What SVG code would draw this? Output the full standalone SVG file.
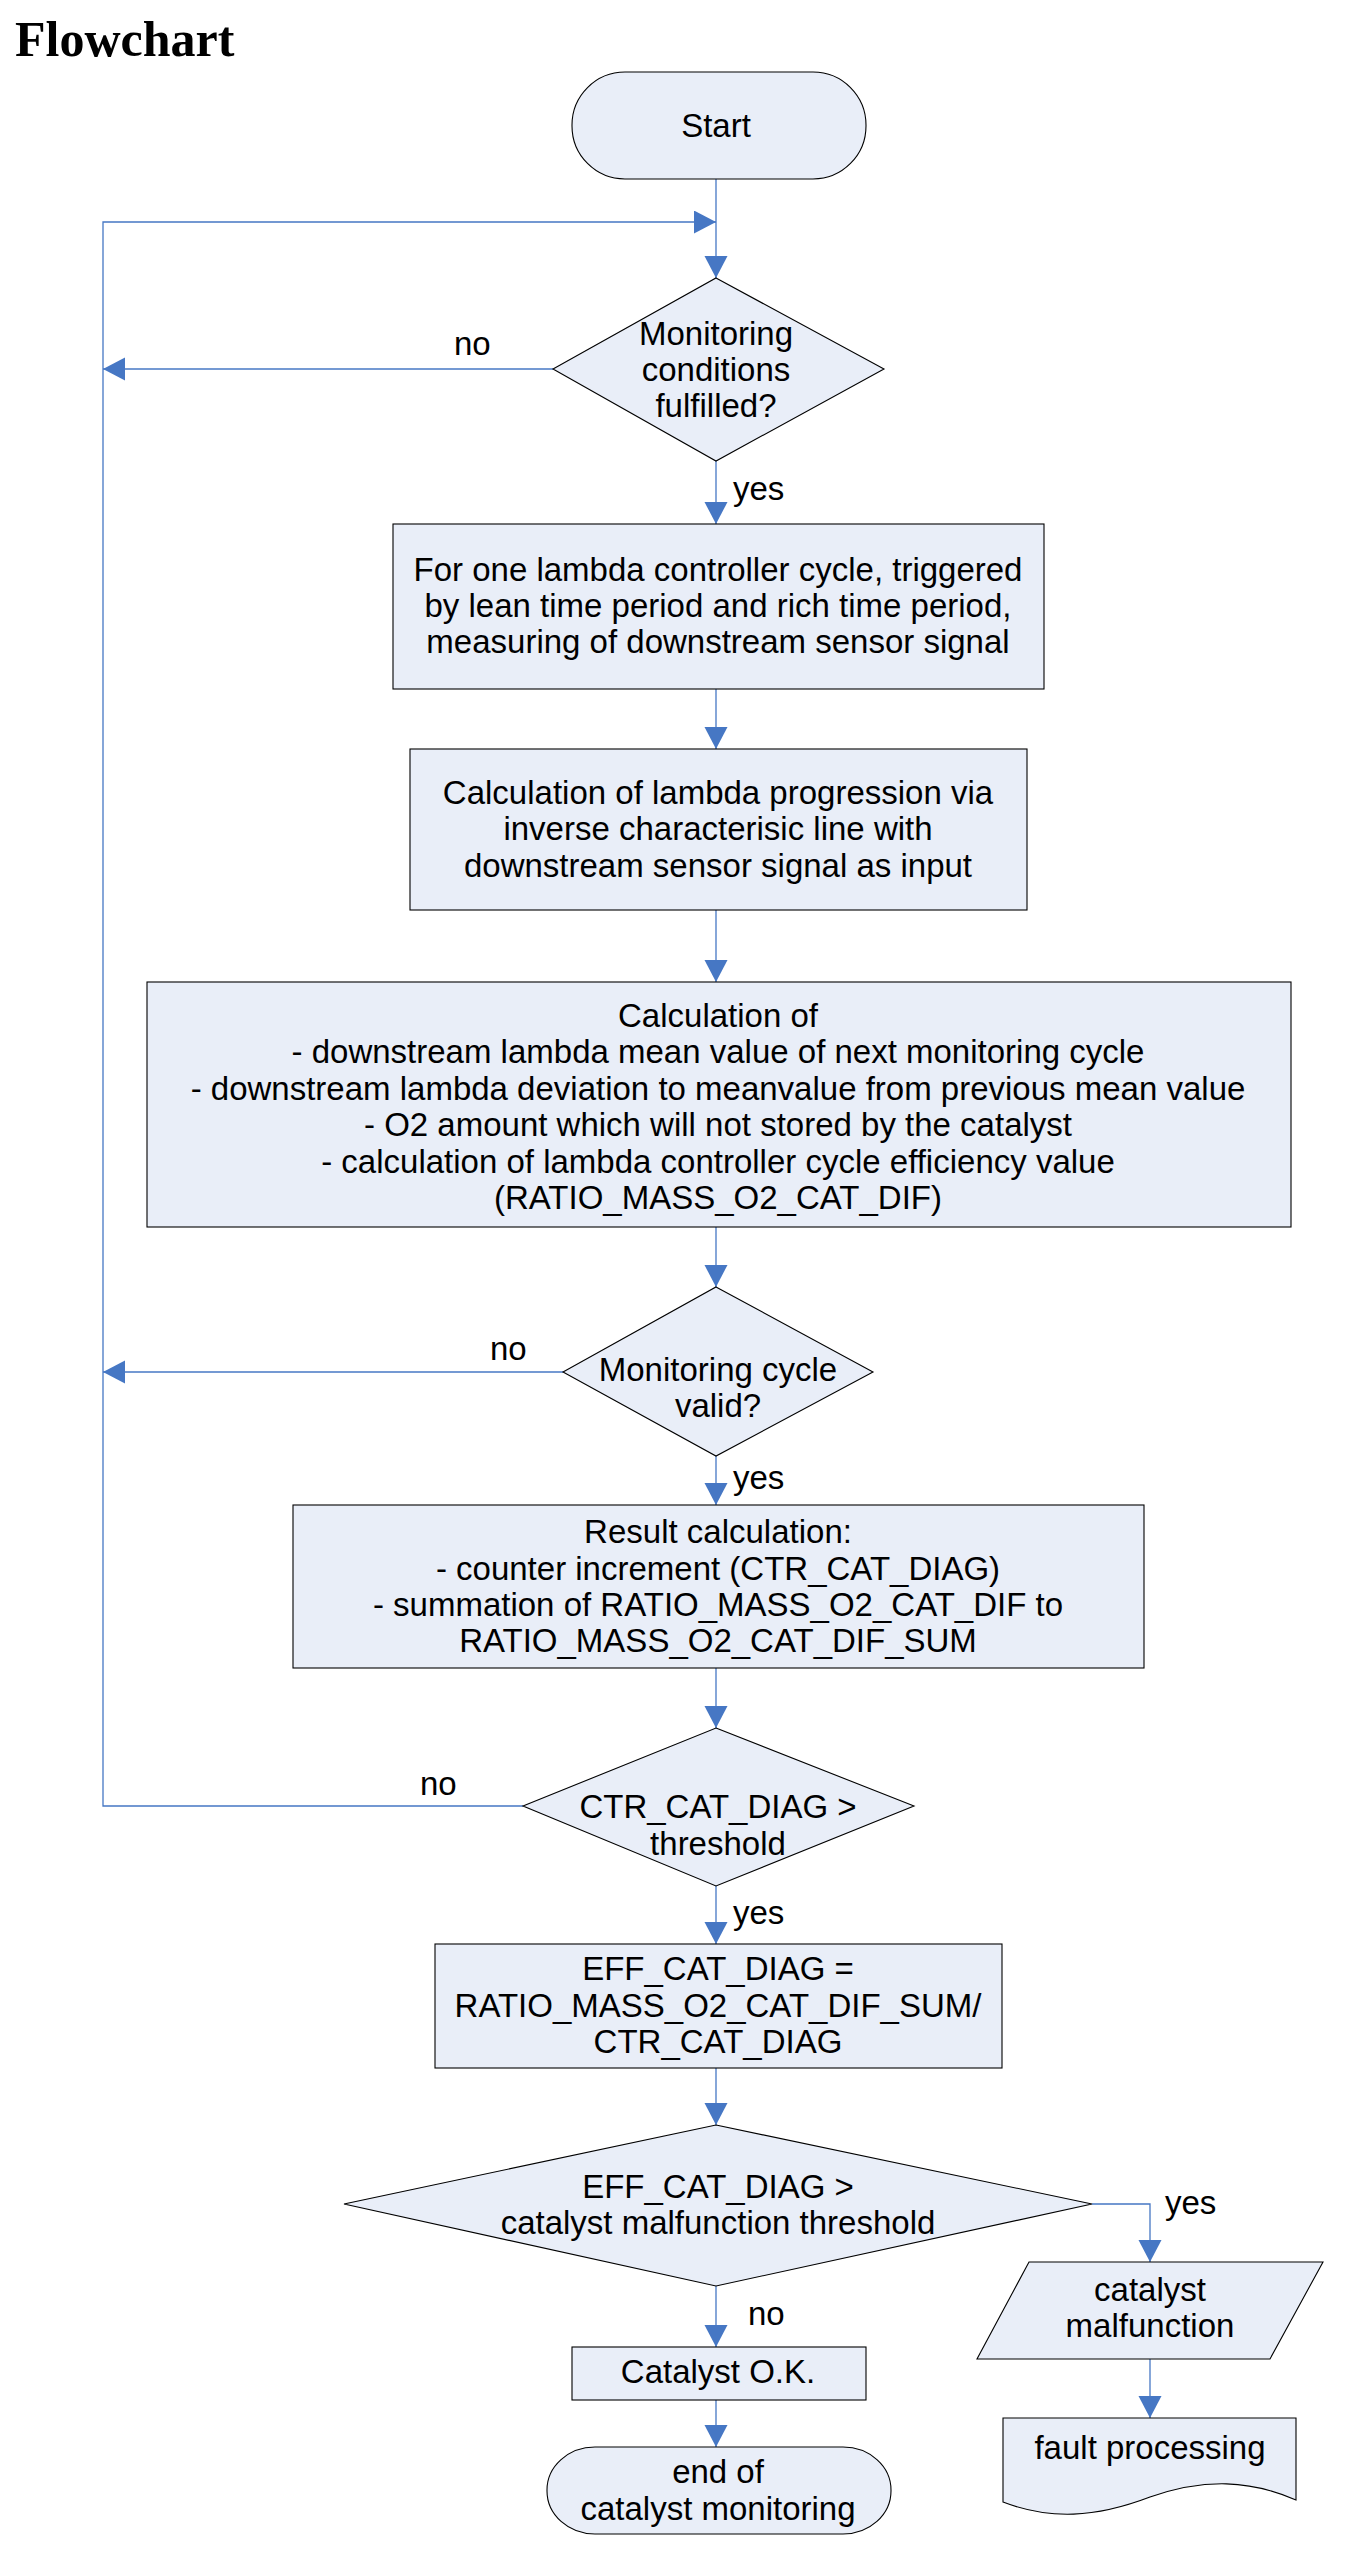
<svg xmlns="http://www.w3.org/2000/svg" width="1348" height="2563" viewBox="0 0 1348 2563">
<style>
.s{fill:#e9eef8;stroke:#000;stroke-width:1.1}
.t{font-family:"Liberation Sans",Arial,sans-serif;font-size:33px;fill:#000;text-anchor:middle}
.l{font-family:"Liberation Sans",Arial,sans-serif;font-size:33px;fill:#000}
.c{fill:none;stroke:#4677c4;stroke-width:1.3}
</style>
<defs>
<marker id="a" markerUnits="userSpaceOnUse" markerWidth="24" markerHeight="24" refX="22" refY="11.5" orient="auto">
<path d="M0,0 L22,11.5 L0,23 Z" fill="#4677c4"/>
</marker>
</defs>
<rect width="1348" height="2563" fill="#fff"/>
<text x="15" y="56" font-family="Liberation Serif,Times New Roman,serif" font-weight="bold" font-size="50">Flowchart</text>

<g id="connectors">
<path class="c" d="M716,179 V278" marker-end="url(#a)"/>
<path class="c" d="M523,1806 H103 V222 H716" marker-end="url(#a)"/>
<path class="c" d="M553,369 H103" marker-end="url(#a)"/>
<path class="c" d="M716,461 V524" marker-end="url(#a)"/>
<path class="c" d="M716,689 V749" marker-end="url(#a)"/>
<path class="c" d="M716,910 V982" marker-end="url(#a)"/>
<path class="c" d="M716,1227 V1287" marker-end="url(#a)"/>
<path class="c" d="M563,1372 H103" marker-end="url(#a)"/>
<path class="c" d="M716,1456 V1505" marker-end="url(#a)"/>
<path class="c" d="M716,1668 V1728" marker-end="url(#a)"/>
<path class="c" d="M716,1886 V1944" marker-end="url(#a)"/>
<path class="c" d="M716,2068 V2125" marker-end="url(#a)"/>
<path class="c" d="M1092,2204 H1150 V2262" marker-end="url(#a)"/>
<path class="c" d="M716,2286 V2347" marker-end="url(#a)"/>
<path class="c" d="M716,2400 V2447" marker-end="url(#a)"/>
<path class="c" d="M1150,2359 V2418" marker-end="url(#a)"/>
<text class="l" x="454" y="355">no</text>
<text class="l" x="733" y="500">yes</text>
<text class="l" x="490" y="1360">no</text>
<text class="l" x="733" y="1489">yes</text>
<text class="l" x="420" y="1795">no</text>
<text class="l" x="733" y="1924">yes</text>
<text class="l" x="1165" y="2214">yes</text>
<text class="l" x="748" y="2325">no</text>
</g>

<g id="start">
<rect class="s" x="572" y="72" width="294" height="107" rx="53" ry="53"/>
<text class="t" x="716" y="137">Start</text>
</g>

<g id="cond1">
<polygon class="s" points="716,278 884,369 716,461 553,369"/>
<text class="t" x="716" y="345">Monitoring</text>
<text class="t" x="716" y="381">conditions</text>
<text class="t" x="716" y="417">fulfilled?</text>
</g>

<g id="measure">
<rect class="s" x="393" y="524" width="651" height="165"/>
<text class="t" x="718" y="581">For one lambda controller cycle, triggered</text>
<text class="t" x="718" y="617">by lean time period and rich time period,</text>
<text class="t" x="718" y="653">measuring of downstream sensor signal</text>
</g>

<g id="progression">
<rect class="s" x="410" y="749" width="617" height="161"/>
<text class="t" x="718" y="804">Calculation of lambda progression via</text>
<text class="t" x="718" y="840">inverse characterisic line with</text>
<text class="t" x="718" y="877">downstream sensor signal as input</text>
</g>

<g id="calc">
<rect class="s" x="147" y="982" width="1144" height="245"/>
<text class="t" x="718" y="1026.5">Calculation of</text>
<text class="t" x="718" y="1063">- downstream lambda mean value of next monitoring cycle</text>
<text class="t" x="718" y="1099.5">- downstream lambda deviation to meanvalue from previous mean value</text>
<text class="t" x="718" y="1136">- O2 amount which will not stored by the catalyst</text>
<text class="t" x="718" y="1172.5">- calculation of lambda controller cycle efficiency value</text>
<text class="t" x="718" y="1209">(RATIO_MASS_O2_CAT_DIF)</text>
</g>

<g id="cond2">
<polygon class="s" points="716,1287 873,1372 716,1456 563,1372"/>
<text class="t" x="718" y="1381">Monitoring cycle</text>
<text class="t" x="718" y="1417">valid?</text>
</g>

<g id="result">
<rect class="s" x="293" y="1505" width="851" height="163"/>
<text class="t" x="718" y="1543">Result calculation:</text>
<text class="t" x="718" y="1580">- counter increment (CTR_CAT_DIAG)</text>
<text class="t" x="718" y="1616">- summation of RATIO_MASS_O2_CAT_DIF to</text>
<text class="t" x="718" y="1652">RATIO_MASS_O2_CAT_DIF_SUM</text>
</g>

<g id="cond3">
<polygon class="s" points="716,1728 914,1806 716,1886 523,1806"/>
<text class="t" x="718" y="1818">CTR_CAT_DIAG &gt;</text>
<text class="t" x="718" y="1854.5">threshold</text>
</g>

<g id="eff">
<rect class="s" x="435" y="1944" width="567" height="124"/>
<text class="t" x="718" y="1980">EFF_CAT_DIAG =</text>
<text class="t" x="718" y="2016.5">RATIO_MASS_O2_CAT_DIF_SUM/</text>
<text class="t" x="718" y="2053">CTR_CAT_DIAG</text>
</g>

<g id="cond4">
<polygon class="s" points="716,2125 1092,2204 716,2286 344,2204"/>
<text class="t" x="718" y="2197.5">EFF_CAT_DIAG &gt;</text>
<text class="t" x="718" y="2234">catalyst malfunction threshold</text>
</g>

<g id="ok">
<rect class="s" x="572" y="2347" width="294" height="53"/>
<text class="t" x="718" y="2383">Catalyst O.K.</text>
</g>

<g id="end">
<rect class="s" x="547" y="2447" width="344" height="87" rx="48" ry="43"/>
<text class="t" x="718" y="2483">end of</text>
<text class="t" x="718" y="2520">catalyst monitoring</text>
</g>

<g id="malfunction">
<polygon class="s" points="1029,2262 1323,2262 1270,2359 977,2359"/>
<text class="t" x="1150" y="2301">catalyst</text>
<text class="t" x="1150" y="2337">malfunction</text>
</g>

<g id="fault">
<path class="s" d="M1003,2418 H1296 V2500 C1250,2480 1205,2478 1150,2497 C1095,2518 1050,2520 1003,2502 Z"/>
<text class="t" x="1150" y="2459">fault processing</text>
</g>
</svg>
